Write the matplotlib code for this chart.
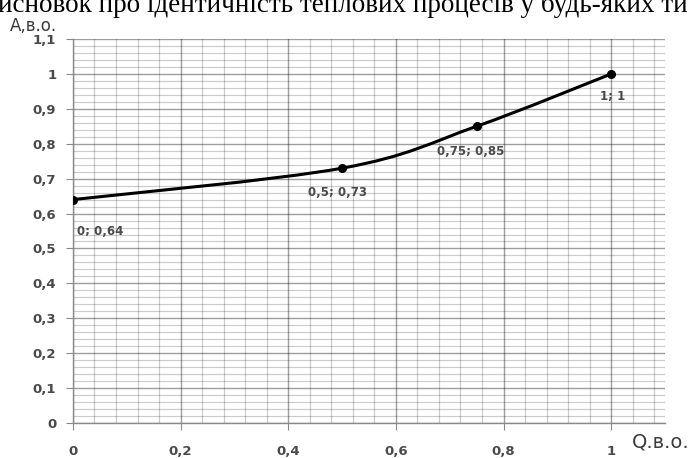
import matplotlib.pyplot as plt
from matplotlib.path import Path
from matplotlib.patches import PathPatch
from matplotlib.ticker import MultipleLocator, FixedLocator

# data
q_vals = [0, 0.5, 0.75, 1]
a_vals = [0.64, 0.73, 0.85, 1]
point_labels = ['0; 0,64', '0,5; 0,73', '0,75; 0,85', '1; 1']
label_offsets = [(3, -28), (-3, -22), (-4, -23), (1, -21)]
label_ha = ['left', 'center', 'center', 'center']
x_ticks = [0, 0.2, 0.4, 0.6, 0.8, 1]
y_ticks = [0, 0.1, 0.2, 0.3, 0.4, 0.5, 0.6, 0.7, 0.8, 0.9, 1, 1.1]


def comma(v):
    return ('%g' % v).replace('.', ',')


def smooth_path(xs, ys):
    # Excel-like smoothed line: cubic Bezier segments with Catmull-Rom tangents
    pts = list(zip(xs, ys))
    verts = [pts[0]]
    codes = [Path.MOVETO]
    n = len(pts)
    for i in range(n - 1):
        p0 = pts[i - 1] if i > 0 else pts[i]
        p1 = pts[i]
        p2 = pts[i + 1]
        p3 = pts[i + 2] if i + 2 < n else pts[i + 1]
        c1 = (p1[0] + (p2[0] - p0[0]) / 6, p1[1] + (p2[1] - p0[1]) / 6)
        c2 = (p2[0] - (p3[0] - p1[0]) / 6, p2[1] - (p3[1] - p1[1]) / 6)
        verts += [c1, c2, p2]
        codes += [Path.CURVE4] * 3
    return Path(verts, codes)


fig = plt.figure(figsize=(6.88, 4.58), dpi=100)
ax = fig.add_axes([0.106, 0.0764, 0.8606, 0.8384])

ax.set_xlim(0, 1.1)
ax.set_ylim(0, 1.1)

ax.xaxis.set_major_locator(FixedLocator(x_ticks))
ax.yaxis.set_major_locator(FixedLocator(y_ticks))
ax.xaxis.set_minor_locator(MultipleLocator(0.04))
ax.yaxis.set_minor_locator(MultipleLocator(0.02))
ax.set_xticklabels([comma(v) for v in x_ticks])
ax.set_yticklabels([comma(v) for v in y_ticks])

# semi-transparent grid so crossings darken instead of breaking lines
ax.grid(which='minor', color='black', alpha=0.2, linewidth=0.9)
ax.grid(which='major', color='black', alpha=0.38, linewidth=1.0)
ax.set_axisbelow(True)

for s in ['top', 'right']:
    ax.spines[s].set_visible(False)
for s in ['left', 'bottom']:
    ax.spines[s].set_color('#8a8a8a')
    ax.spines[s].set_linewidth(1.0)

ax.tick_params(which='major', length=5, color='#8a8a8a', labelcolor='#4a4a4a',
               labelsize=9.5)
ax.tick_params(which='minor', length=0)
ax.tick_params(axis='x', pad=11)
ax.tick_params(axis='y', pad=7)
for lab in ax.get_xticklabels() + ax.get_yticklabels():
    lab.set_fontweight('bold')
    lab.set_family('DejaVu Sans')

ax.add_patch(PathPatch(smooth_path(q_vals, a_vals), facecolor='none',
                       edgecolor='black', linewidth=2.2, zorder=3))
ax.plot(q_vals, a_vals, 'o', color='black', markersize=5.5, zorder=4)

for x, y, t, off, ha in zip(q_vals, a_vals, point_labels, label_offsets, label_ha):
    ax.annotate(t, (x, y), xytext=off, textcoords='offset points',
                ha=ha, va='bottom', fontsize=8.5, color='#4a4a4a',
                fontweight='bold', zorder=5)

fig.text(0.014, 0.933, 'A,в.о.', fontsize=12, color='#3c3c3c', ha='left',
         va='baseline')
fig.text(0.918, 0.022, 'Q.в.о.', fontsize=14, color='#3c3c3c', ha='left',
         va='baseline')
fig.text(-0.003, 0.973, 'исновок про ідентичність теплових процесів у будь-яких тип',
         fontsize=19.5, family='Liberation Serif', color='black', ha='left',
         va='baseline')

fig.savefig('out.png', dpi=100)
